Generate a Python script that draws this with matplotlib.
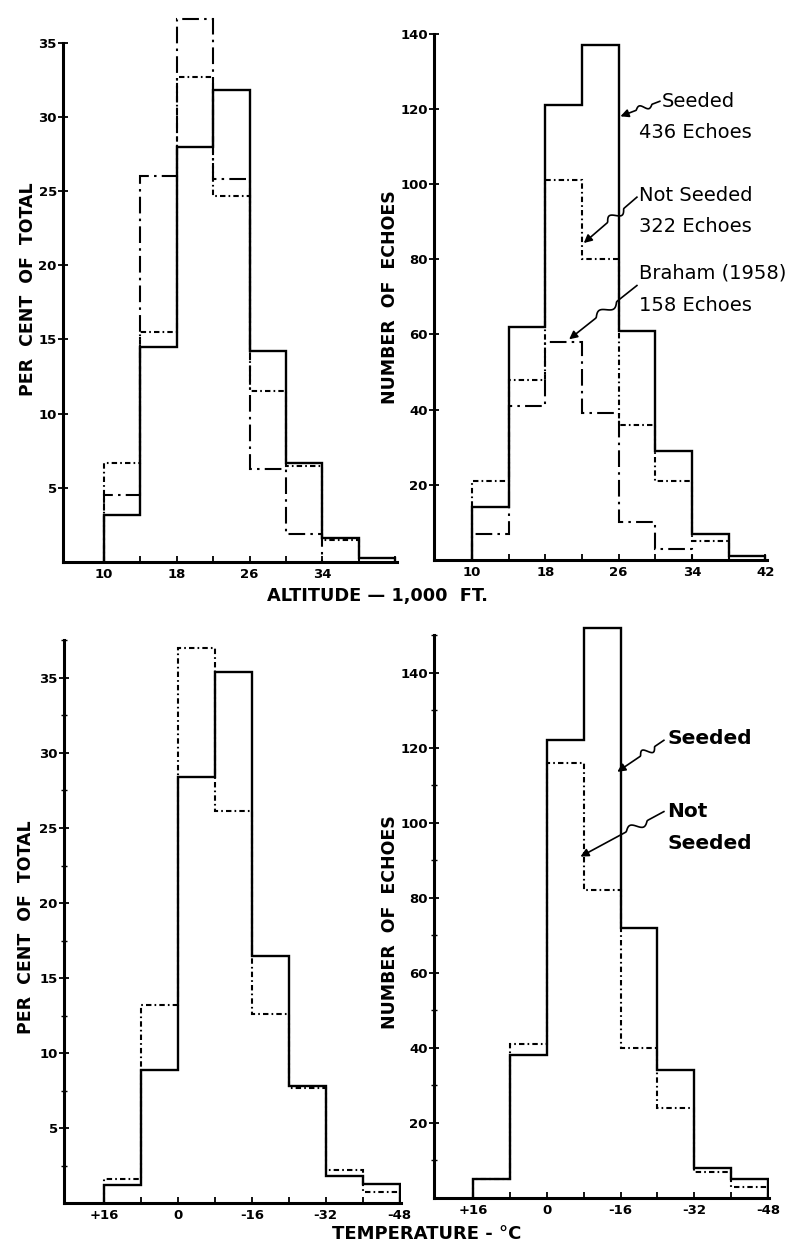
import numpy as np
import matplotlib
matplotlib.use('Agg')
import matplotlib.pyplot as plt

# ---------------- data ----------------
alt_edges = [10, 14, 18, 22, 26, 30, 34, 38, 42]
alt_ticks = [10, 14, 18, 22, 26, 30, 34, 38, 42]

# per cent of total, altitude
seeded_alt_pct = [3.2, 14.5, 28.0, 31.8, 14.2, 6.7, 1.6, 0.3]
notseeded_alt_pct = [6.7, 15.5, 32.7, 24.7, 11.5, 6.5, 1.5, 0.0]
braham_alt_pct = [4.5, 26.0, 36.6, 25.8, 6.3, 1.9, 0.0, 0.0]

# number of echoes, altitude
seeded_alt_n = [14, 62, 121, 137, 61, 29, 7, 1]
notseeded_alt_n = [21, 48, 101, 80, 36, 21, 5, 0]
braham_alt_n = [7, 41, 58, 39, 10, 3, 0, 0]

temp_edges = [16, 8, 0, -8, -16, -24, -32, -40, -48]
temp_ticks = [16, 8, 0, -8, -16, -24, -32, -40, -48]
temp_labels = ['+16', '', '0', '', '-16', '', '-32', '', '-48']

# per cent of total, temperature
seeded_temp_pct = [1.2, 8.9, 28.4, 35.4, 16.5, 7.8, 1.8, 1.3]
notseeded_temp_pct = [1.6, 13.2, 37.0, 26.1, 12.6, 7.7, 2.2, 0.75]

# number of echoes, temperature
seeded_temp_n = [5, 38, 122, 152, 72, 34, 8, 5]
notseeded_temp_n = [5, 41, 116, 82, 40, 24, 7, 3]

# ---------------- styles ----------------
W, H = 794, 1245
SOLID = dict(color='k', lw=1.7, linestyle='-')
NOTSEED = dict(color='k', lw=1.5, linestyle=(0, (2.6, 1.5, 0.8, 1.5)))
BRAHAM = dict(color='k', lw=1.5, linestyle=(0, (8, 2.5, 1.2, 2.5)))
TICKFONT = dict(fontsize=9.5, fontweight='bold')

fig = plt.figure(figsize=(W / 100, H / 100), dpi=100)


def px_axes(left, right, top, bottom):
    return fig.add_axes([left / W, 1 - bottom / H, (right - left) / W, (bottom - top) / H])


def trim(edges, vals):
    vals = list(vals)
    while vals and vals[-1] == 0:
        vals.pop()
    return edges[:len(vals) + 1], vals


def steps(ax, edges, vals, style):
    e, v = trim(edges, vals)
    ax.stairs(v, e, baseline=0, fill=False, **style)


def global_settings(ax, ytop):
    for s in ['top', 'right']:
        ax.spines[s].set_visible(False)
    for s in ['left', 'bottom']:
        ax.spines[s].set_linewidth(2.2)
    ax.spines['left'].set_bounds(0, ytop)
    ax.tick_params(axis='x', which='major', direction='in', length=4, width=1.3, pad=4)
    ax.tick_params(axis='y', which='major', direction='inout', length=7, width=1.3, pad=1)
    ax.tick_params(axis='y', which='minor', direction='inout', length=5, width=1.0)
    for lab in ax.get_xticklabels() + ax.get_yticklabels():
        lab.set_fontsize(TICKFONT['fontsize'])
        lab.set_fontweight(TICKFONT['fontweight'])


def ylabel(ax, text, x, y):
    ax.text(x, y, text, transform=ax.transAxes, rotation=90, ha='center', va='center',
            fontsize=12.5, fontweight='bold')


def wavy_arrow(ax, tail, tip, amp=5, lo=0.25, hi=0.6):
    p0 = ax.transData.transform(tail)
    p1 = ax.transData.transform(tip)
    d = p1 - p0
    n = np.array([-d[1], d[0]]) / np.hypot(*d)
    t = np.linspace(0, 1, 80)
    w = np.where((t > lo) & (t < hi), np.sin(2 * np.pi * (t - lo) / (hi - lo)), 0.0)
    pts = p0[None, :] + t[:, None] * d[None, :] + amp * w[:, None] * n[None, :]
    data = ax.transData.inverted().transform(pts)
    ax.plot(data[:-6, 0], data[:-6, 1], color='k', lw=1.2, clip_on=False)
    ax.annotate('', xy=tip, xytext=tuple(data[-7]), annotation_clip=False,
                arrowprops=dict(arrowstyle='-|>', color='k', lw=1.2,
                                mutation_scale=12, shrinkA=0, shrinkB=0))


# ---------------- top left: altitude, per cent ----------------
ax = px_axes(63, 397, 5.6, 562)
ax.set_xlim(5.5, 42.2)
ax.set_ylim(0, 37.5)
steps(ax, alt_edges, braham_alt_pct, BRAHAM)
steps(ax, alt_edges, notseeded_alt_pct, NOTSEED)
steps(ax, alt_edges, seeded_alt_pct, SOLID)
ax.set_xticks(alt_ticks)
ax.set_xticklabels(['10', '', '18', '', '26', '', '34', '', ''])
ax.set_yticks([5, 10, 15, 20, 25, 30, 35])
global_settings(ax, 35)
ylabel(ax, 'PER  CENT  OF  TOTAL', -0.105, 0.49)

# ---------------- top right: altitude, number ----------------
ax = px_axes(434, 767, 33.6, 560)
ax.set_xlim(5.85, 42.2)
ax.set_ylim(0, 140)
steps(ax, alt_edges, braham_alt_n, BRAHAM)
steps(ax, alt_edges, notseeded_alt_n, NOTSEED)
steps(ax, alt_edges, seeded_alt_n, SOLID)
ax.set_xticks(alt_ticks)
ax.set_xticklabels(['10', '', '18', '', '26', '', '34', '', '42'])
ax.set_yticks([20, 40, 60, 80, 100, 120, 140])
global_settings(ax, 140)
ylabel(ax, 'NUMBER  OF  ECHOES', -0.132, 0.50)

txt = dict(fontsize=14, ha='left', va='center', clip_on=False)
ax.text(30.7, 122, 'Seeded', **txt)
ax.text(28.2, 113.6, '436 Echoes', **txt)
ax.text(28.2, 97, 'Not Seeded', **txt)
ax.text(28.2, 88.6, '322 Echoes', **txt)
ax.text(28.2, 76.3, 'Braham (1958)', **txt)
ax.text(28.2, 67.8, '158 Echoes', **txt)
wavy_arrow(ax, (30.5, 122), (26.2, 118), amp=3, lo=0.2, hi=0.6)
wavy_arrow(ax, (28.0, 96.5), (22.2, 84.3), amp=4, lo=0.25, hi=0.55)
wavy_arrow(ax, (28.0, 73), (20.6, 58.7), amp=4, lo=0.3, hi=0.6)

fig.text(377 / W, 1 - 596 / H, 'ALTITUDE \u2014 1,000  FT.', ha='center', va='center',
         fontsize=12.8, fontweight='bold')

# ---------------- bottom left: temperature, per cent ----------------
ax = px_axes(64, 401, 640.5, 1203)
ax.set_xlim(24.65, -48.3)
ax.set_ylim(0, 37.5)
steps(ax, temp_edges, notseeded_temp_pct, NOTSEED)
steps(ax, temp_edges, seeded_temp_pct, SOLID)
ax.set_xticks(temp_ticks)
ax.set_xticklabels(temp_labels)
ax.set_yticks([5, 10, 15, 20, 25, 30, 35])
ax.set_yticks(np.arange(2.5, 38, 5), minor=True)
global_settings(ax, 37.5)
ylabel(ax, 'PER  CENT  OF  TOTAL', -0.113, 0.49)

# ---------------- bottom right: temperature, number ----------------
ax = px_axes(434, 769, 624, 1198)
ax.set_xlim(24.46, -48.2)
ax.set_ylim(0, 153)
steps(ax, temp_edges, notseeded_temp_n, NOTSEED)
steps(ax, temp_edges, seeded_temp_n, SOLID)
ax.set_xticks(temp_ticks)
ax.set_xticklabels(temp_labels)
ax.set_yticks([20, 40, 60, 80, 100, 120, 140])
ax.set_yticks(np.arange(10, 151, 20), minor=True)
global_settings(ax, 150)
ylabel(ax, 'NUMBER  OF  ECHOES', -0.131, 0.48)

txtb = dict(fontsize=14.5, fontweight='bold', ha='left', va='center', clip_on=False)
ax.text(-26.1, 122.4, 'Seeded', **txtb)
ax.text(-26.1, 103, 'Not', **txtb)
ax.text(-26.1, 94.4, 'Seeded', **txtb)
wavy_arrow(ax, (-25.4, 122), (-15.3, 113.6), amp=4, lo=0.2, hi=0.5)
wavy_arrow(ax, (-25.4, 103), (-7.3, 91), amp=4, lo=0.2, hi=0.45)

fig.text(427 / W, 1 - 1234 / H, 'TEMPERATURE - \u00b0C', ha='center', va='center',
         fontsize=13, fontweight='bold')

fig.savefig('out.png', dpi=100)
